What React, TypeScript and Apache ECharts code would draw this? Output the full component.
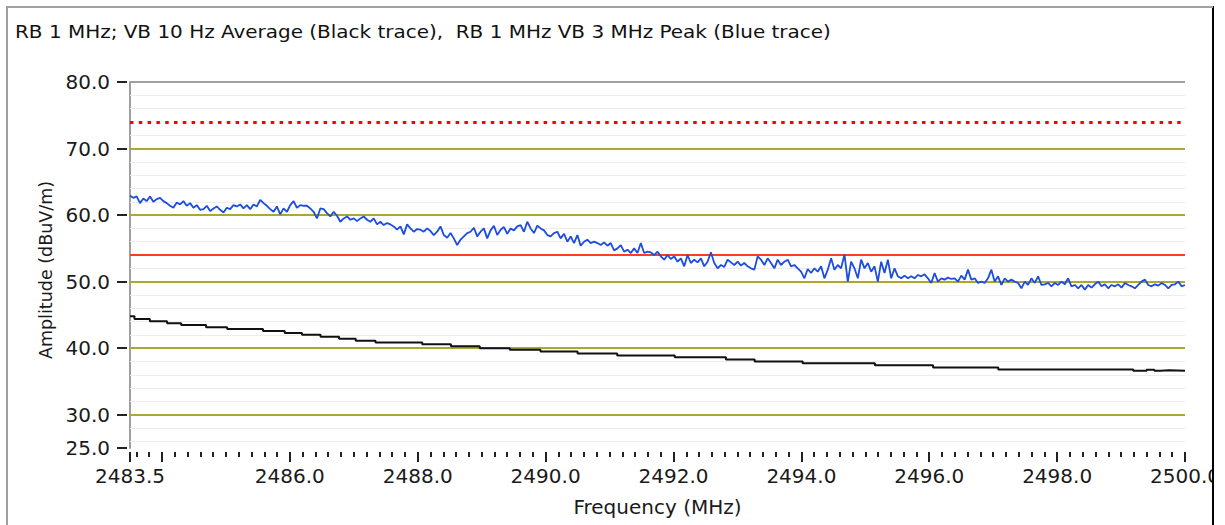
import React, { useEffect, useRef } from 'react';
import * as echarts from 'echarts';

const TITLE = 'RB 1 MHz; VB 10 Hz Average (Black trace),  RB 1 MHz VB 3 MHz Peak (Blue trace)';
const X_NAME = 'Frequency (MHz)';
const Y_NAME = 'Amplitude (dBuV/m)';

const X_MIN = 2483.5;
const X_MAX = 2500;
const Y_MIN = 25;
const Y_MAX = 80;

const X_LABELS = [2483.5, 2486, 2488, 2490, 2492, 2494, 2496, 2498, 2500];
const X_MAJOR_TICKS = [2483.5, 2484, 2486, 2488, 2490, 2492, 2494, 2496, 2498, 2500];
const X_MINOR_STEP = 0.2;
const Y_TICKS = [25, 30, 40, 50, 60, 70, 80];
const Y_MAJOR_GRID = [30, 40, 50, 60, 70];
const Y_MINOR_GRID = [26, 28, 32, 34, 36, 38, 42, 44, 46, 48, 52, 54, 56, 58, 62, 64, 66, 68, 72, 74, 76, 78];

const PEAK_LIMIT = 74;
const AVG_LIMIT = 54;

// Peak trace (blue), sampled uniformly over the sweep 2483.5 .. 2500.0 MHz
const BLUE_VALUES = [
  62.9, 62.6, 62.8, 61.8, 62.5, 62.1, 62.8, 62.0, 62.4, 62.6,
  62.1, 61.8, 61.4, 61.1, 61.9, 61.6, 62.1, 61.4, 61.8, 61.1,
  61.5, 60.8, 60.9, 61.4, 60.6, 61.0, 61.3, 60.8, 60.4, 61.1,
  60.9, 61.5, 61.3, 61.6, 61.0, 61.5, 60.9, 61.6, 61.3, 62.3,
  61.8, 61.4, 60.9, 60.5, 61.3, 60.1, 61.0, 60.5, 61.5, 62.1,
  61.1, 61.5, 61.4, 61.4, 61.0, 60.5, 59.5, 61.0, 60.9, 60.3,
  59.8, 60.5, 59.9, 59.0, 59.5, 59.8, 59.3, 59.5, 59.1, 59.5,
  59.8, 59.3, 59.0, 59.5, 58.6, 59.0, 58.5, 58.8, 58.6, 58.3,
  57.8, 58.3, 57.1, 58.6, 58.0, 57.5, 57.9, 57.8, 57.5, 58.0,
  57.6, 57.0, 57.5, 58.3, 57.0, 56.6, 57.3, 56.5, 55.5, 56.3,
  56.8, 57.3, 57.5, 58.1,
  56.8, 57.5, 58.0, 56.5, 57.7, 58.4, 57.0, 57.8, 58.2, 57.2,
  58.0, 57.7, 58.3, 58.5, 57.5, 59.0, 58.0, 57.3, 58.4, 58.0,
  57.7, 57.0, 56.8, 57.3, 57.5, 56.5, 57.2, 56.0, 56.8, 55.8,
  57.0, 55.4, 56.0, 56.3, 55.8, 56.0, 55.8, 55.5, 55.9, 55.4,
  55.8, 54.7, 55.0, 55.5, 54.5, 54.8, 54.3, 55.0, 54.3, 55.8,
  54.3, 54.5, 54.4, 54.0, 54.5, 53.8, 53.3, 54.0, 53.4, 53.8,
  53.0, 53.5, 52.3, 54.0, 52.8, 53.3, 52.9, 53.5, 52.3, 53.0,
  54.4, 52.8, 52.0, 52.5, 52.2, 53.3, 52.9, 52.5, 53.0, 52.4,
  52.8, 52.3, 52.0, 51.8, 53.8, 53.3, 52.5, 53.5, 52.8, 52.0,
  53.3, 52.5, 53.0, 53.3, 52.3, 52.5, 52.0, 51.5, 50.5, 51.9,
  51.3, 52.0, 51.5, 52.3, 50.5, 51.8,
  53.5, 51.8, 52.5, 52.0, 54.1, 50.0, 53.0, 52.0, 50.5, 53.3,
  52.0, 52.8, 51.5, 52.3, 50.0, 53.0, 51.3, 53.3, 50.5, 52.0,
  50.8, 50.5, 50.9, 50.5, 50.8, 50.5, 51.0, 50.8, 51.1, 50.5,
  49.8, 51.3, 50.0, 50.5, 50.3, 50.6, 50.4, 50.5, 50.0, 50.9,
  50.3, 51.8, 50.3, 50.5, 49.8, 50.0, 49.8, 50.5, 51.8, 50.0,
  50.8, 49.5, 50.5, 50.0, 50.3, 50.0, 49.8, 49.0, 50.0, 49.5,
  50.5, 49.8, 50.8, 49.5, 49.6, 49.8, 49.3, 49.8, 49.5, 50.0,
  49.6, 50.5, 49.3, 49.5, 49.0, 49.5, 48.8, 49.5, 49.1, 49.6,
  50.0, 49.3, 49.6, 49.0, 49.5, 49.3, 49.6, 49.1, 49.8, 49.5,
  49.3, 49.0, 49.5, 50.0, 50.3, 49.5, 49.3, 49.6, 49.4, 49.8,
  49.5, 49.0, 49.5, 49.6, 50.0, 49.3, 49.5,
];

// Average trace (black): frequency where each level starts, and the level
const BLACK_FREQ = [
  2483.5, 2483.57, 2483.81, 2484.08, 2484.3, 2484.69, 2485.02, 2485.58, 2485.92, 2486.19,
  2486.48, 2486.77, 2487.03, 2487.34, 2488.07, 2488.52, 2488.97, 2489.44, 2489.92, 2490.5,
  2491.12, 2492.02, 2492.82, 2493.27, 2494.02, 2495.15, 2496.06, 2497.08, 2499.19, 2499.4,
  2499.52, 2499.62, 2499.75, 2500.0,
];
const BLACK_VALUES = [
  44.8, 44.4, 44.05, 43.75, 43.5, 43.15, 42.9, 42.6, 42.3, 42.0,
  41.7, 41.4, 41.1, 40.85, 40.6, 40.3, 40.0, 39.75, 39.5, 39.2,
  38.9, 38.65, 38.3, 38.0, 37.75, 37.45, 37.1, 36.8, 36.6, 36.75,
  36.6, 36.7, 36.6, 36.65,
];

const FONT = 'DejaVu Sans';

function minorTicks(): number[] {
  const out: number[] = [];
  const n = Math.round((X_MAX - X_MIN) / X_MINOR_STEP) + 2;
  for (let k = 0; k < n; k++) {
    const v = Math.round((2483.6 + k * X_MINOR_STEP) * 10) / 10;
    if (v >= X_MAX) break;
    const isMajor = Math.abs(v - Math.round(v)) < 1e-6 && Math.round(v) % 2 === 0;
    if (!isMajor) out.push(v);
  }
  return out;
}

export default function App() {
  const ref = useRef<HTMLDivElement>(null);

  useEffect(() => {
    if (!ref.current) return;
    const chart = echarts.init(ref.current, undefined, { renderer: 'svg' });

    const step = (X_MAX - X_MIN) / (BLUE_VALUES.length - 1);
    const blueData = BLUE_VALUES.map((v, i) => [X_MIN + i * step, v]);
    const blackData = BLACK_FREQ.map((f, i) => [f, BLACK_VALUES[i]]);

    const gridLines: any[] = [];
    Y_MINOR_GRID.filter((v) => v !== PEAK_LIMIT && v !== AVG_LIMIT).forEach((v) =>
      gridLines.push({ yAxis: v, lineStyle: { color: '#ececec', width: 1, type: 'solid' } })
    );
    Y_MAJOR_GRID.forEach((v) =>
      gridLines.push({ yAxis: v, lineStyle: { color: '#aaa830', width: 2, type: 'solid' } })
    );
    gridLines.push({ yAxis: Y_MAX, lineStyle: { color: '#a0a0a0', width: 2, type: 'solid' } });
    gridLines.push({ yAxis: AVG_LIMIT, lineStyle: { color: '#ff3a2a', width: 2, type: 'solid' } });
    gridLines.push({ yAxis: PEAK_LIMIT, lineStyle: { color: '#ff0000', width: 3, type: [3.5, 5.3] } });

    const labelStyle = { fontFamily: FONT, fontSize: 20, color: '#1a1a1a' };

    const option: any = {
      animation: false,
      backgroundColor: '#ffffff',
      grid: { left: 130, right: 40, top: 82, bottom: 77, containLabel: false, outerBoundsMode: 'none' },
      xAxis: [
        {
          type: 'value', min: X_MIN, max: X_MAX, position: 'bottom', offset: 4,
          axisLine: { show: false }, splitLine: { show: false },
          axisTick: { show: true, customValues: X_MAJOR_TICKS, length: 10, lineStyle: { color: '#222', width: 2 } },
          axisLabel: { ...labelStyle, customValues: X_LABELS, margin: 14, formatter: (v: number) => v.toFixed(1) },
          name: X_NAME, nameLocation: 'middle', nameGap: 45,
          nameTextStyle: { fontFamily: FONT, fontSize: 20, color: '#1a1a1a' },
        },
        {
          type: 'value', min: X_MIN, max: X_MAX, position: 'bottom', offset: 4,
          axisLine: { show: false }, splitLine: { show: false },
          axisTick: { show: true, customValues: minorTicks(), length: 5, lineStyle: { color: '#222', width: 2 } },
          axisLabel: { show: false },
        },
      ],
      yAxis: [
        {
          type: 'value', min: Y_MIN, max: Y_MAX, position: 'left', offset: 3,
          axisLine: { show: false }, splitLine: { show: false },
          axisTick: { show: true, customValues: Y_TICKS, length: 10, lineStyle: { color: '#222', width: 2 } },
          axisLabel: { ...labelStyle, customValues: Y_TICKS, margin: 17, padding: [6, 0, 0, 0], formatter: (v: number) => v.toFixed(1) },
          name: Y_NAME, nameLocation: 'middle', nameGap: 72, nameRotate: 90,
          nameTextStyle: { fontFamily: FONT, fontSize: 17.5, color: '#1a1a1a', padding: [0, 10, 0, 0] },
        },
        {
          type: 'value', min: Y_MIN, max: Y_MAX, position: 'left', offset: 0,
          axisLine: { show: true, lineStyle: { color: '#a0a0a0', width: 2 } },
          axisTick: { show: false }, axisLabel: { show: false }, splitLine: { show: false },
        },
      ],
      series: [
        {
          type: 'line', name: 'Average', data: blackData, step: 'end', xAxisIndex: 0, yAxisIndex: 0,
          symbol: 'none', showSymbol: false, silent: true, z: 3,
          lineStyle: { color: '#111111', width: 2 },
          markLine: {
            silent: true, z: 1, symbol: ['none', 'none'], label: { show: false },
            emphasis: { disabled: true }, data: gridLines,
          },
        },
        {
          type: 'line', name: 'Peak', data: blueData, xAxisIndex: 0, yAxisIndex: 0,
          symbol: 'none', showSymbol: false, silent: true, z: 4,
          lineStyle: { color: '#1c4ce0', width: 1.8 },
        },
      ],
      graphic: [
        { type: 'rect', shape: { x: 1214, y: 0, width: 11, height: 525 }, style: { fill: '#ffffff' }, z: 100, silent: true },
        { type: 'line', shape: { x1: 1213, y1: 6, x2: 1213, y2: 525 }, style: { stroke: '#000000', lineWidth: 2 }, z: 101, silent: true },
        { type: 'line', shape: { x1: 6, y1: 7, x2: 1213, y2: 7 }, style: { stroke: '#a0a0a0', lineWidth: 2 }, z: 101, silent: true },
        { type: 'line', shape: { x1: 7, y1: 6, x2: 7, y2: 525 }, style: { stroke: '#a0a0a0', lineWidth: 2 }, z: 101, silent: true },
        {
          type: 'text', x: 15, y: 32, scaleX: 1.175, z: 101, silent: true,
          style: { text: TITLE, fontFamily: FONT, fontSize: 17, fill: '#111111', verticalAlign: 'middle' },
        },
      ],
    };

    chart.setOption(option);
    return () => chart.dispose();
  }, []);

  return (
    <div
      ref={ref}
      style={{ position: 'absolute', left: 0, top: 0, width: 1225, height: 525, background: '#fff' }}
    />
  );
}
